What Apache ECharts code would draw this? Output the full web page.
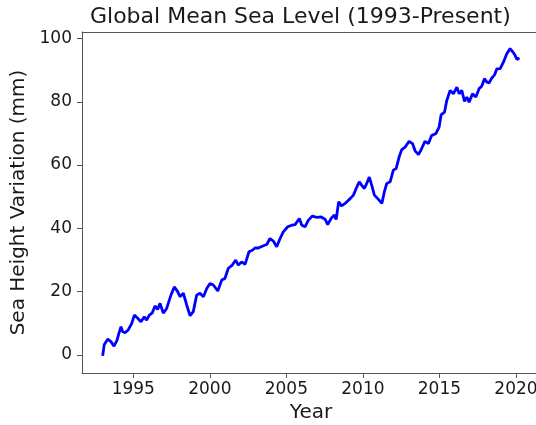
<!DOCTYPE html>
<html>
<head>
<meta charset="utf-8">
<script src="https://cdn.jsdelivr.net/npm/echarts@6/dist/echarts.min.js"></script>
<style>
  html, body { margin: 0; padding: 0; background: #fff; }
  #box { width: 536px; height: 425px; }
</style>
</head>
<body>
<div id="box"></div>
<script>
// decimal year of each reading
var years = [
	1993.0, 1993.1, 1993.33, 1993.54, 1993.74, 1993.94, 1994.06, 1994.2, 1994.3, 1994.46,
	1994.67, 1994.9, 1995.07, 1995.29, 1995.5, 1995.72, 1995.87, 1996.05, 1996.24, 1996.42,
	1996.59, 1996.75, 1996.96, 1997.18, 1997.46, 1997.68, 1997.9, 1998.05, 1998.27, 1998.49,
	1998.71, 1998.92, 1999.14, 1999.36, 1999.58, 1999.8, 2000.01, 2000.23, 2000.52, 2000.78,
	2000.99, 2001.21, 2001.47, 2001.69, 2001.86, 2002.08, 2002.3, 2002.56, 2002.78, 2002.95,
	2003.17, 2003.5, 2003.72, 2003.93, 2004.15, 2004.37, 2004.59, 2004.8, 2005.09, 2005.35,
	2005.57, 2005.85, 2006.01, 2006.22, 2006.44, 2006.7, 2006.99, 2007.27, 2007.53, 2007.7,
	2007.92, 2008.14, 2008.25, 2008.42, 2008.6, 2008.82, 2009.02, 2009.17, 2009.38, 2009.56,
	2009.76, 2009.93, 2010.1, 2010.25, 2010.42, 2010.58, 2010.75, 2010.97, 2011.24, 2011.4,
	2011.56, 2011.78, 2011.99, 2012.17, 2012.37, 2012.54, 2012.76, 2013.02, 2013.24, 2013.41,
	2013.63, 2013.82, 2014.05, 2014.28, 2014.5, 2014.76, 2014.98, 2015.11, 2015.33, 2015.48,
	2015.7, 2015.91, 2016.14, 2016.29, 2016.46, 2016.64, 2016.79, 2016.94, 2017.16, 2017.38,
	2017.59, 2017.77, 2017.94, 2018.1, 2018.25, 2018.42, 2018.6, 2018.75, 2018.97, 2019.18,
	2019.4, 2019.62, 2019.8, 2019.95, 2020.06, 2020.23
];
// sea height variation, mm
var seaLevel = [
	-0.3, 3.2, 5.0, 4.2, 2.8, 4.7, 6.8, 8.9, 7.4, 7.0,
	7.9, 10.0, 12.6, 11.6, 10.5, 12.1, 11.0, 12.6, 13.3, 15.5,
	14.4, 16.3, 13.2, 14.7, 18.9, 21.5, 20.0, 18.4, 19.5, 15.8,
	12.4, 13.7, 18.9, 19.5, 18.4, 21.0, 22.6, 22.1, 20.2, 23.7,
	24.2, 27.4, 28.4, 30.0, 28.4, 29.4, 28.6, 32.6, 33.1, 33.8,
	33.8, 34.5, 34.9, 36.8, 36.0, 34.2, 36.8, 38.9, 40.5, 41.0,
	41.2, 43.1, 41.0, 40.5, 42.6, 43.9, 43.5, 43.6, 42.9, 41.2,
	43.1, 44.2, 42.8, 48.4, 47.1, 47.8, 48.7, 49.4, 50.5, 52.6,
	54.7, 53.6, 52.6, 54.2, 56.2, 53.6, 50.5, 49.4, 47.9, 51.5,
	54.2, 54.7, 58.4, 58.9, 62.6, 64.9, 65.7, 67.5, 66.8, 64.5,
	63.3, 65.0, 67.5, 66.8, 69.4, 69.9, 72.0, 75.9, 76.7, 80.4,
	83.6, 82.5, 84.6, 82.5, 83.6, 80.1, 81.5, 79.9, 82.5, 81.5,
	84.1, 85.0, 87.3, 86.2, 86.0, 87.5, 88.5, 90.4, 90.5, 92.5,
	95.2, 96.8, 95.7, 94.6, 93.4, 93.8
];
var xTicks = [1995, 2000, 2005, 2010, 2015, 2020];
var yTicks = [0, 20, 40, 60, 80, 100];

var font = 'DejaVu Sans';
var chart = echarts.init(document.getElementById('box'));

var points = years.map(function(y, i) {
	return [y, seaLevel[i]];
});

var option = {
	animation: false,
	backgroundColor: '#fff',
	title: {
		text: 'Global Mean Sea Level (1993-Present)',
		left: 85,
		top: 1,
		textStyle: {
			fontFamily: font,
			fontSize: 22,
			fontWeight: 'normal',
			color: '#1a1a1a'
		}
	},
	grid: {
		left: 82,
		right: -4,
		top: 32,
		bottom: 52,
		containLabel: false,
		outerBoundsMode: 'none'
	},
	xAxis: [{
		type: 'value',
		min: 1991.65,
		max: 2021.57,
		name: 'Year',
		nameLocation: 'middle',
		nameGap: 28,
		nameTextStyle: { fontFamily: font, fontSize: 20, color: '#1a1a1a' },
		axisLine: { show: true, onZero: false, lineStyle: { color: '#555', width: 1 } },
		axisTick: { show: true, length: 5, customValues: xTicks, lineStyle: { color: '#555' } },
		axisLabel: {
			customValues: xTicks,
			margin: 8,
			fontFamily: font,
			fontSize: 17,
			color: '#1a1a1a',
			formatter: function(v) { return String(v); }
		},
		splitLine: { show: false }
	}, {
		// top spine only
		type: 'value',
		position: 'top',
		min: 1991.65,
		max: 2021.57,
		axisLine: { show: true, onZero: false, lineStyle: { color: '#555', width: 1 } },
		axisTick: { show: false },
		axisLabel: { show: false },
		splitLine: { show: false }
	}],
	yAxis: {
		type: 'value',
		min: -5.7,
		max: 102.05,
		name: 'Sea Height Variation (mm)',
		nameLocation: 'middle',
		nameGap: 44,
		nameTextStyle: { fontFamily: font, fontSize: 20, color: '#1a1a1a' },
		axisLine: { show: true, onZero: false, lineStyle: { color: '#555', width: 1 } },
		axisTick: { show: true, length: 5, customValues: yTicks, lineStyle: { color: '#555' } },
		axisLabel: {
			customValues: yTicks,
			margin: 10,
			fontFamily: font,
			fontSize: 17,
			color: '#1a1a1a'
		},
		splitLine: { show: false }
	},
	series: [{
		type: 'line',
		data: points,
		showSymbol: false,
		symbol: 'none',
		lineStyle: { color: '#0000ff', width: 2.8 },
		itemStyle: { color: '#0000ff' }
	}]
};
chart.setOption(option);
</script>
</body>
</html>
